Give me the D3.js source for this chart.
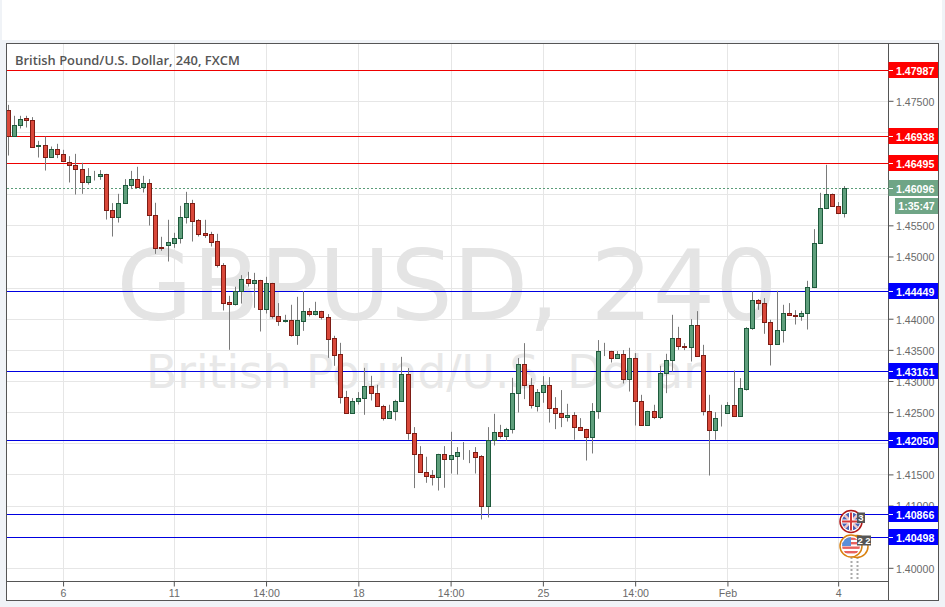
<!DOCTYPE html>
<html><head><meta charset="utf-8">
<script src="https://cdn.jsdelivr.net/npm/d3@7"></script>
<style>
html,body{margin:0;padding:0;background:#f0f3f7;overflow:hidden}
svg{display:block}
.yt text,.xt text{font-family:"Liberation Sans",Arial,sans-serif;fill:#6a6a6a}
</style></head><body>
<svg id="c" width="945" height="607"></svg>
<script>
const open=[1.47350,1.46942,1.47109,1.47222,1.47190,1.46772,1.46788,1.46595,1.46724,1.46653,1.46525,1.46467,1.46403,1.46194,1.46285,1.46290,1.46322,1.45744,1.45632,1.45857,1.46146,1.46242,1.46114,1.46178,1.45664,1.45150,1.45192,1.45224,1.45295,1.45632,1.45857,1.45584,1.45375,1.45359,1.45246,1.44861,1.44267,1.44244,1.44444,1.44636,1.44566,1.44620,1.44154,1.44572,1.44036,1.43971,1.43978,1.43731,1.43971,1.44122,1.44068,1.44122,1.44026,1.43689,1.43432,1.42741,1.42494,1.42677,1.42725,1.42918,1.42805,1.42597,1.42404,1.42516,1.42677,1.43111,1.42157,1.41826,1.41537,1.41489,1.41466,1.41826,1.41755,1.41803,1.41858,1.41858,1.41858,1.41794,1.41000,1.42051,1.42179,1.42109,1.42227,1.42805,1.43271,1.42934,1.42597,1.42822,1.42934,1.42565,1.42484,1.42420,1.42452,1.42259,1.42227,1.42099,1.42516,1.43480,1.43480,1.43368,1.43432,1.43030,1.43368,1.42677,1.42292,1.42516,1.42420,1.43127,1.43335,1.43689,1.43565,1.43544,1.43898,1.43416,1.42516,1.42211,1.42468,1.42484,1.42613,1.42436,1.42879,1.43849,1.44299,1.44251,1.43946,1.43592,1.43817,1.44090,1.44058,1.44042,1.44090,1.44508,1.45214,1.45776,1.46001,1.45809,1.45696];
const close=[1.46942,1.47109,1.47215,1.47190,1.46766,1.46788,1.46595,1.46724,1.46653,1.46531,1.46467,1.46403,1.46194,1.46290,1.46290,1.46322,1.45744,1.45632,1.45857,1.46146,1.46242,1.46114,1.46178,1.45664,1.45144,1.45144,1.45235,1.45295,1.45632,1.45857,1.45577,1.45368,1.45352,1.45240,1.44855,1.44260,1.44244,1.44444,1.44636,1.44566,1.44620,1.44154,1.44572,1.44036,1.43971,1.43978,1.43731,1.43978,1.44122,1.44068,1.44122,1.44020,1.43682,1.43425,1.42741,1.42494,1.42677,1.42725,1.42918,1.42805,1.42597,1.42404,1.42516,1.42677,1.43111,1.42157,1.41826,1.41537,1.41482,1.41466,1.41826,1.41755,1.41810,1.41858,1.41852,1.41852,1.41787,1.41000,1.42051,1.42179,1.42109,1.42227,1.42805,1.43271,1.42934,1.42613,1.42822,1.42934,1.42565,1.42484,1.42420,1.42452,1.42259,1.42221,1.42099,1.42516,1.43480,1.43475,1.43368,1.43432,1.43030,1.43368,1.42677,1.42292,1.42516,1.42420,1.43127,1.43335,1.43689,1.43560,1.43544,1.43898,1.43405,1.42516,1.42211,1.42404,1.42478,1.42613,1.42436,1.42886,1.43849,1.44299,1.44251,1.43946,1.43592,1.43817,1.44090,1.44052,1.44042,1.44090,1.44508,1.45214,1.45776,1.46001,1.45809,1.45696,1.46096];
const high=[1.47435,1.47259,1.47259,1.47259,1.47238,1.46857,1.46926,1.46766,1.46809,1.46713,1.46611,1.46648,1.46504,1.46419,1.46375,1.46387,1.46327,1.45857,1.46006,1.46242,1.46375,1.46440,1.46295,1.46242,1.45862,1.45316,1.45589,1.45380,1.45813,1.46038,1.45910,1.45600,1.45589,1.45396,1.45364,1.44893,1.44368,1.44513,1.44700,1.44753,1.44737,1.44625,1.44673,1.44577,1.44251,1.44063,1.44224,1.44352,1.44444,1.44171,1.44272,1.44127,1.44074,1.43726,1.43613,1.42842,1.42725,1.42822,1.43212,1.43083,1.42939,1.42618,1.42618,1.42698,1.43388,1.43207,1.42259,1.41954,1.41783,1.41569,1.41831,1.41954,1.42184,1.41938,1.42019,1.41890,1.41938,1.41810,1.42259,1.42473,1.42296,1.42248,1.43051,1.43368,1.43608,1.43046,1.42870,1.43078,1.43062,1.42741,1.42854,1.42634,1.42500,1.42404,1.42232,1.42645,1.43657,1.43613,1.43485,1.43480,1.43496,1.43533,1.43448,1.42778,1.42521,1.42618,1.43244,1.43437,1.44063,1.43870,1.43608,1.43994,1.44122,1.43581,1.42778,1.42500,1.42618,1.42661,1.43168,1.43046,1.43865,1.44437,1.44315,1.44331,1.43983,1.44448,1.44224,1.44251,1.44138,1.44127,1.44609,1.45439,1.46022,1.46472,1.46011,1.45873,1.46130];
const low=[1.46621,1.46926,1.47055,1.47071,1.46756,1.46589,1.46380,1.46595,1.46579,1.46525,1.46188,1.45995,1.46006,1.46155,1.46220,1.46231,1.45593,1.45320,1.45545,1.45857,1.46082,1.46114,1.46027,1.45497,1.45042,1.45091,1.44919,1.45139,1.45208,1.45529,1.45240,1.45320,1.45299,1.45160,1.44823,1.44132,1.43501,1.44212,1.44244,1.44517,1.44175,1.43795,1.44084,1.44003,1.43886,1.43939,1.43714,1.43581,1.43806,1.44036,1.44052,1.43987,1.43372,1.43244,1.42638,1.42494,1.42494,1.42622,1.42457,1.42687,1.42597,1.42365,1.42404,1.42365,1.42677,1.42056,1.41280,1.41537,1.41365,1.41322,1.41241,1.41285,1.41514,1.41498,1.41734,1.41681,1.41514,1.40776,1.40808,1.41964,1.42076,1.42044,1.42157,1.42494,1.42709,1.42558,1.42510,1.42650,1.42333,1.42227,1.42259,1.42349,1.42056,1.42221,1.41723,1.41836,1.42393,1.43400,1.43297,1.43368,1.42960,1.42831,1.42285,1.42292,1.42292,1.42388,1.42388,1.42805,1.43152,1.43501,1.43496,1.43313,1.43388,1.42446,1.41482,1.42056,1.42269,1.42484,1.42436,1.42436,1.42847,1.43822,1.44143,1.43758,1.43249,1.43592,1.43618,1.44052,1.43907,1.43967,1.43827,1.44492,1.45214,1.45760,1.45809,1.45680,1.45626];
const yTicks=[1.40,1.405,1.41,1.415,1.42,1.425,1.43,1.435,1.44,1.445,1.45,1.455,1.46,1.465,1.47,1.475];
const xTickIndex=[9,27,42,57,72,87,102,117,135];
const xTickLabels=["6","11","14:00","18","14:00","25","14:00","Feb","4"];
const redLevels=[1.47987,1.46938,1.46495];
const blueLevels=[1.44449,1.43161,1.42050,1.40866,1.40498];
const lastPrice=1.46096;
const countdown="1:35:47";
const titleText="British Pound/U.S. Dollar, 240, FXCM";
const wmBig="GBPUSD, 240";
const wmSmall="British Pound/U.S. Dollar";

const svg=d3.select("#c");
const L=7,R=888,T=44,B=581,FR=938,FB=600;
const y=d3.scaleLinear().domain([1.40,1.475]).range([567.8,100.8]);
const x=d3.scaleLinear().domain([0,136]).range([7.7,844.3]);

svg.append("rect").attr("x",2).attr("y",0).attr("width",940).attr("height",40).attr("fill","#fff");
svg.append("rect").attr("x",6.5).attr("y",43.5).attr("width",FR-6).attr("height",FB-43).attr("fill","#fff").attr("stroke","#555");
svg.append("defs").append("clipPath").attr("id","plot").append("rect").attr("x",L).attr("y",T).attr("width",R-L).attr("height",B-T);

const plot=svg.append("g").attr("clip-path","url(#plot)");
plot.selectAll(".hg").data(yTicks).join("line").attr("x1",L).attr("x2",R)
  .attr("y1",d=>Math.round(y(d))+.5).attr("y2",d=>Math.round(y(d))+.5).attr("stroke","#e6e6e6").attr("stroke-width",1);
plot.selectAll(".vg").data(xTickIndex).join("line").attr("y1",T).attr("y2",B)
  .attr("x1",d=>Math.round(x(d))+.5).attr("x2",d=>Math.round(x(d))+.5).attr("stroke","#e6e6e6").attr("stroke-width",1);

plot.append("text").text(wmBig).attr("x",447).attr("y",320).attr("text-anchor","middle")
  .attr("font-family","DejaVu Sans").attr("font-size",98).attr("fill","#e4e4e4");
plot.append("text").text(wmSmall).attr("x",424).attr("y",388).attr("text-anchor","middle")
  .attr("font-family","DejaVu Sans").attr("font-size",45.5).attr("fill","#e8e8e8");

plot.selectAll(".rl").data(redLevels).join("line").attr("x1",L).attr("x2",R)
  .attr("y1",d=>Math.round(y(d))+.5).attr("y2",d=>Math.round(y(d))+.5).attr("stroke","#ee0000").attr("stroke-width",1);
plot.selectAll(".bl").data(blueLevels).join("line").attr("x1",L).attr("x2",R)
  .attr("y1",d=>Math.round(y(d))+.5).attr("y2",d=>Math.round(y(d))+.5).attr("stroke","#0000e0").attr("stroke-width",1);
plot.append("line").attr("x1",L).attr("x2",R).attr("y1",Math.round(y(lastPrice))+.5).attr("y2",Math.round(y(lastPrice))+.5)
  .attr("stroke","#5a9c78").attr("stroke-dasharray","2 2");

const idx=d3.range(open.length);
const snap=v=>Math.round(v)+.5;
plot.selectAll(".w").data(idx).join("line").attr("x1",i=>snap(x(i))).attr("x2",i=>snap(x(i)))
  .attr("y1",i=>y(high[i])).attr("y2",i=>y(low[i])).attr("stroke","#7a7a7a").attr("stroke-width",1);
plot.selectAll(".b").data(idx).join("rect")
  .attr("x",i=>snap(x(i))-2).attr("width",4)
  .attr("y",i=>Math.round(y(Math.max(open[i],close[i])))+.5)
  .attr("height",i=>Math.max(0,Math.round(y(Math.min(open[i],close[i])))-Math.round(y(Math.max(open[i],close[i])))))
  .attr("fill",i=>close[i]>=open[i]?"#5f9f7c":"#d9483a")
  .attr("stroke",i=>close[i]>=open[i]?"#1e5a3c":"#7d1c14").attr("stroke-width",1);

svg.append("text").text(titleText).attr("x",15).attr("y",65).attr("font-family","Open Sans")
  .attr("font-weight",600).attr("font-size",12.9).attr("fill","#555");

// axes
svg.append("line").attr("x1",R+.5).attr("x2",R+.5).attr("y1",43).attr("y2",FB).attr("stroke","#555");
svg.append("line").attr("x1",6).attr("x2",R).attr("y1",B+.5).attr("y2",B+.5).attr("stroke","#555");
const ya=d3.axisRight(y).tickValues(yTicks).tickFormat(d3.format(".5f")).tickSize(5).tickPadding(2.5);
const gy=svg.append("g").attr("class","yt").attr("transform",`translate(${R+.5},0)`).call(ya);
gy.select(".domain").remove();
gy.selectAll("line").attr("stroke","#555");
gy.selectAll("text").attr("font-size",10.6).attr("y",1);
// a tick label that sits under a level label is not visible in the chart
const allLevels=redLevels.concat(blueLevels,[lastPrice]);
gy.selectAll(".tick").filter(d=>allLevels.some(v=>Math.abs(y(v)-y(d))<7)).select("text").remove();
const xa=d3.axisBottom(x).tickValues(xTickIndex).tickFormat((d,i)=>xTickLabels[i]).tickSize(5).tickPadding(3);
const gx=svg.append("g").attr("class","xt").attr("transform",`translate(0,${B+.5})`).call(xa);
gx.select(".domain").remove();
gx.selectAll("line").attr("stroke","#555");
gx.selectAll("text").attr("font-size",10.6);

// level labels
function label(v,fill){
  const yy=Math.round(y(v));
  const g=svg.append("g");
  g.append("rect").attr("x",R+.5).attr("y",yy-8).attr("width",FR-R-.5).attr("height",16).attr("fill",fill);
  g.append("line").attr("x1",R+1).attr("x2",R+5).attr("y1",yy+.5).attr("y2",yy+.5).attr("stroke","#fff");
  g.append("text").text(v.toFixed(5)).attr("x",R+8).attr("y",yy+4.5).attr("font-family","Liberation Sans")
   .attr("font-weight",700).attr("font-size",10.6).attr("fill","#fff");
}
redLevels.forEach(v=>label(v,"#ff0000"));
blueLevels.forEach(v=>label(v,"#0000ff"));
label(lastPrice,"#6fa586");
svg.append("rect").attr("x",895).attr("y",198).attr("width",43).attr("height",16).attr("fill","#6fa586");
svg.append("text").text(countdown).attr("x",916.5).attr("y",210).attr("text-anchor","middle")
  .attr("font-family","Liberation Sans").attr("font-weight",700).attr("font-size",10.6).attr("fill","#fff");

// event markers
[851.5,857.5].forEach(px=>svg.append("line").attr("x1",px).attr("x2",px).attr("y1",557).attr("y2",581)
  .attr("stroke","#aaa").attr("stroke-width",2).attr("stroke-dasharray","2 2"));
const defs=svg.select("defs");
defs.append("clipPath").attr("id","uk").append("circle").attr("cx",851).attr("cy",521.5).attr("r",9);
defs.append("clipPath").attr("id","us").append("circle").attr("cx",851).attr("cy",546).attr("r",9);
svg.append("circle").attr("cx",857).attr("cy",546.5).attr("r",11).attr("fill","#fff").attr("stroke","#d9810f").attr("stroke-width",1.5);
svg.append("circle").attr("cx",851).attr("cy",546).attr("r",11).attr("fill","#fff").attr("stroke","#d9810f").attr("stroke-width",1.5);
const us=svg.append("g").attr("clip-path","url(#us)");
[537.5,542,546.5,551].forEach(py=>us.append("rect").attr("x",840).attr("y",py).attr("width",24).attr("height",2.4).attr("fill","#e8635f"));
us.append("rect").attr("x",840).attr("y",537).attr("width",11).attr("height",9).attr("fill","#5b8fd9");
svg.append("circle").attr("cx",851).attr("cy",521.5).attr("r",11).attr("fill","#fff").attr("stroke","#b01818").attr("stroke-width",1.5);
const uk=svg.append("g").attr("clip-path","url(#uk)");
uk.append("rect").attr("x",840).attr("y",510).attr("width",24).attr("height",23).attr("fill","#4a64b8");
uk.append("path").attr("d","M842 512.5L860 530.5M860 512.5L842 530.5").attr("stroke","#f2c8c8").attr("stroke-width",2.4);
uk.append("path").attr("d","M851 510V533M840 521.5H862").attr("stroke","#fff").attr("stroke-width",4);
uk.append("path").attr("d","M851 510V533M840 521.5H862").attr("stroke","#d43a3a").attr("stroke-width",2);
svg.append("rect").attr("x",857).attr("y",512.5).attr("width",8).attr("height",10.5).attr("fill","#555");
svg.append("text").text("3").attr("x",861).attr("y",521).attr("text-anchor","middle").attr("font-family","Liberation Sans").attr("font-weight",700).attr("font-size",9.5).attr("fill","#fff");
svg.append("rect").attr("x",857).attr("y",535.5).attr("width",14).attr("height",10).attr("fill","#555");
svg.append("text").text("2 2").attr("x",864).attr("y",544).attr("text-anchor","middle").attr("font-family","Liberation Sans").attr("font-weight",700).attr("font-size",9.5).attr("fill","#fff");
</script>
</body></html>
